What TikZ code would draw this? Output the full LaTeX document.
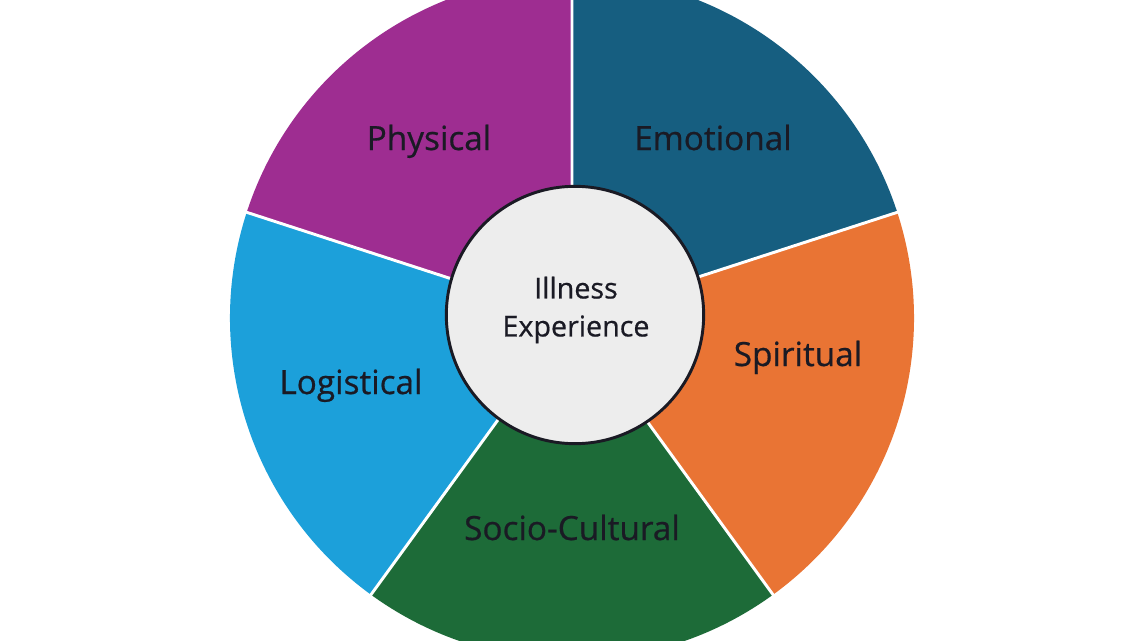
\documentclass[tikz,border=0pt]{standalone}
\usepackage{fontspec}
\setmainfont[FakeBold=0.6,AutoFakeBold=0.6]{Open Sans}
\usetikzlibrary{positioning}

\definecolor{physcol}{HTML}{9E2D91}
\definecolor{emocol}{HTML}{165E80}
\definecolor{spircol}{HTML}{E97434}
\definecolor{sociocol}{HTML}{1D6B38}
\definecolor{logcol}{HTML}{1CA0DA}
\definecolor{corefill}{HTML}{EDEDED}
\definecolor{inkcol}{HTML}{1A1A24}

\begin{document}
\begin{tikzpicture}
[
  x=0.75pt, y=0.75pt,
  slice/.style={draw=white, line width=2.2pt},
  seglabel/.style={anchor=base, text=inkcol, font=\fontsize{25}{30}\selectfont\bfseries},
  core/.style={circle, draw=inkcol, line width=2.2pt, fill=corefill,
    minimum size=193pt, inner sep=0pt},
  coretext/.style={align=center, text=inkcol, font=\fontsize{21.5}{28.5}\selectfont\bfseries}
]
 \useasboundingbox (-572,-322) rectangle (566,318);

 % sectors of the wheel
 \fill[physcol]  (0,0) -- (90:342)   arc (90:162:342)   -- cycle;
 \fill[emocol]   (0,0) -- (18:342)   arc (18:90:342)    -- cycle;
 \fill[spircol]  (0,0) -- (-54:342)  arc (-54:18:342)   -- cycle;
 \fill[sociocol] (0,0) -- (-126:342) arc (-126:-54:342) -- cycle;
 \fill[logcol]   (0,0) -- (162:342)  arc (162:234:342)  -- cycle;

 \coordinate (hub) at (0,0);
 \coordinate (r1) at (90:343);
 \coordinate (r2) at (18:343);
 \coordinate (r3) at (-54:343);
 \coordinate (r4) at (-126:343);
 \coordinate (r5) at (162:343);
 \draw[slice] (hub) -- (r1) (hub) -- (r2) (hub) -- (r3) (hub) -- (r4) (hub) -- (r5);

 \node[seglabel] (physical) at (-143,168) {Physical};
 \node[seglabel] (emotional) at (141,168) {Emotional};
 \node[seglabel] (spiritual) at (226,-48) {Spiritual};
 \node[seglabel] (socio) at (0,-222) {Socio-Cultural};
 \node[seglabel] (logistical) at (-221,-76) {Logistical};

 \node[core] (core) at (3,3) {};
 \node[coretext] (corelabel) at (4,8) {Illness\\Experience};
\end{tikzpicture}
\end{document}
